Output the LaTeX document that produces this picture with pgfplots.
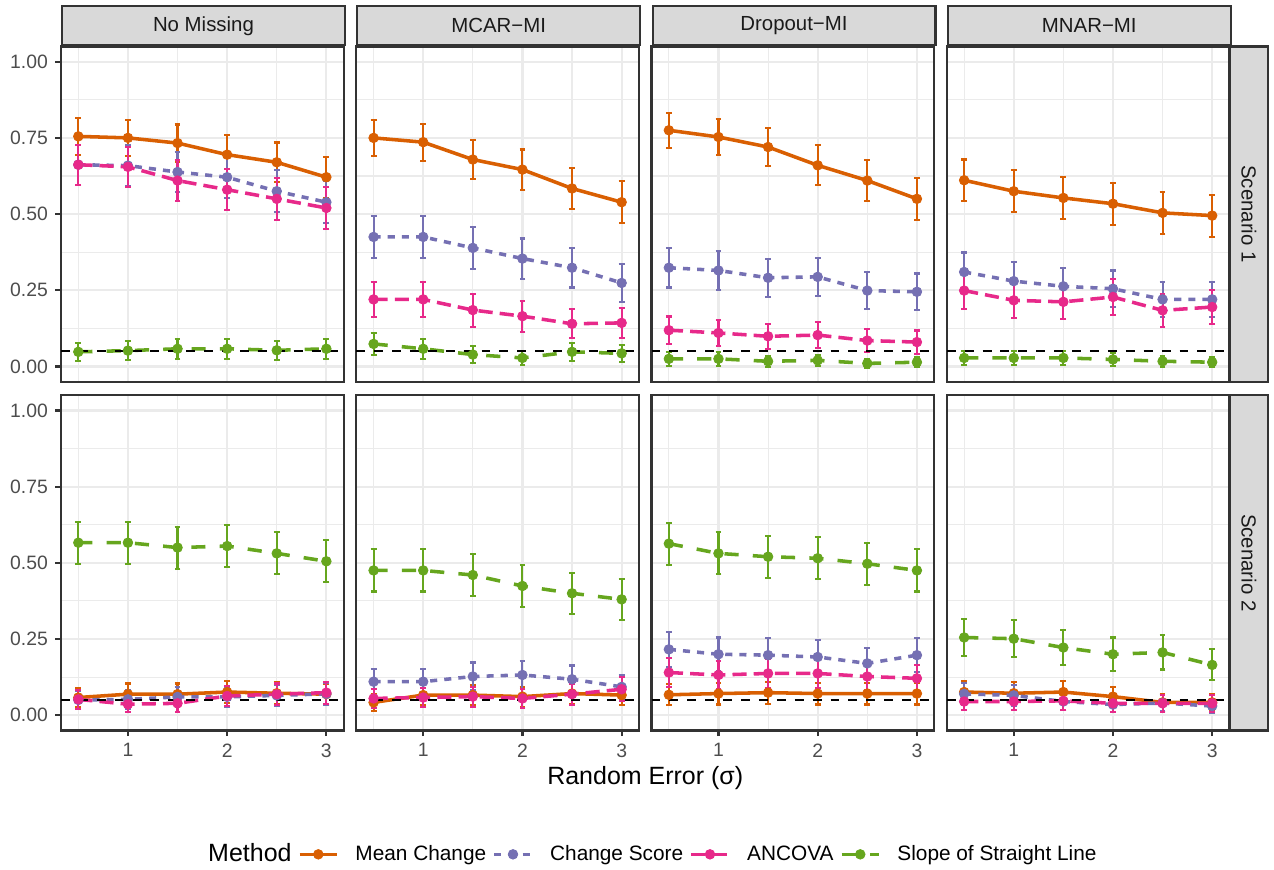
\documentclass[border=0pt]{standalone}
\usepackage{fontspec}
\setmainfont{Liberation Sans}
\usepackage{pgfplots}
\usepackage{pgfplotstable}
\pgfplotsset{compat=1.18}
\definecolor{cM}{HTML}{D95F02}
\definecolor{cC}{HTML}{7570B3}
\definecolor{cA}{HTML}{E7298A}
\definecolor{cS}{HTML}{66A61E}
\definecolor{gridc}{HTML}{EBEBEB}
\definecolor{framec}{HTML}{333333}
\definecolor{ticklab}{HTML}{4D4D4D}
\definecolor{stripfill}{HTML}{D9D9D9}
\definecolor{striptext}{HTML}{1A1A1A}

% Scenario 1
\pgfplotstableread{
x m me c ce a ae s se
0.5 0.755 0.060 0.662 0.066 0.662 0.066 0.048 0.030
1.0 0.750 0.060 0.659 0.066 0.655 0.066 0.052 0.031
1.5 0.733 0.061 0.638 0.067 0.610 0.068 0.058 0.032
2.0 0.695 0.064 0.621 0.067 0.580 0.068 0.058 0.032
2.5 0.670 0.065 0.575 0.069 0.550 0.069 0.053 0.031
3.0 0.621 0.067 0.539 0.069 0.520 0.069 0.058 0.032
}\tAa
\pgfplotstableread{
x m me c ce a ae s se
0.5 0.750 0.060 0.425 0.069 0.220 0.057 0.074 0.036
1.0 0.736 0.061 0.425 0.069 0.220 0.057 0.058 0.032
1.5 0.679 0.065 0.389 0.068 0.185 0.054 0.039 0.027
2.0 0.646 0.066 0.354 0.066 0.165 0.051 0.028 0.023
2.5 0.584 0.068 0.324 0.065 0.140 0.048 0.048 0.030
3.0 0.539 0.069 0.274 0.062 0.143 0.049 0.043 0.028
}\tAb
\pgfplotstableread{
x m me c ce a ae s se
0.5 0.775 0.058 0.324 0.065 0.119 0.045 0.025 0.022
1.0 0.753 0.060 0.315 0.064 0.110 0.043 0.025 0.022
1.5 0.720 0.062 0.291 0.063 0.099 0.041 0.017 0.018
2.0 0.660 0.066 0.294 0.063 0.103 0.042 0.020 0.019
2.5 0.610 0.068 0.249 0.060 0.085 0.039 0.010 0.014
3.0 0.550 0.069 0.245 0.060 0.080 0.038 0.014 0.016
}\tAc
\pgfplotstableread{
x m me c ce a ae s se
0.5 0.611 0.068 0.310 0.064 0.249 0.060 0.028 0.023
1.0 0.575 0.069 0.280 0.062 0.217 0.057 0.028 0.023
1.5 0.553 0.069 0.263 0.061 0.212 0.057 0.028 0.023
2.0 0.534 0.069 0.255 0.060 0.228 0.058 0.023 0.021
2.5 0.504 0.069 0.220 0.057 0.184 0.054 0.017 0.018
3.0 0.495 0.069 0.220 0.057 0.195 0.055 0.014 0.016
}\tAd
% Scenario 2
\pgfplotstableread{
x m me c ce a ae s se
0.5 0.058 0.032 0.050 0.030 0.052 0.031 0.566 0.069
1.0 0.069 0.035 0.052 0.031 0.036 0.026 0.566 0.069
1.5 0.069 0.035 0.060 0.033 0.039 0.027 0.550 0.069
2.0 0.076 0.037 0.060 0.033 0.063 0.034 0.555 0.069
2.5 0.072 0.036 0.065 0.034 0.069 0.035 0.531 0.069
3.0 0.069 0.035 0.070 0.035 0.074 0.036 0.505 0.069
}\tBa
\pgfplotstableread{
x m me c ce a ae s se
0.5 0.042 0.028 0.110 0.043 0.055 0.032 0.475 0.069
1.0 0.066 0.034 0.110 0.043 0.058 0.032 0.475 0.069
1.5 0.066 0.034 0.127 0.046 0.061 0.033 0.460 0.069
2.0 0.061 0.033 0.132 0.047 0.055 0.032 0.424 0.068
2.5 0.071 0.036 0.118 0.045 0.069 0.035 0.400 0.068
3.0 0.066 0.034 0.093 0.040 0.085 0.039 0.380 0.067
}\tBb
\pgfplotstableread{
x m me c ce a ae s se
0.5 0.067 0.035 0.216 0.057 0.140 0.048 0.563 0.069
1.0 0.071 0.036 0.200 0.055 0.132 0.047 0.531 0.069
1.5 0.074 0.036 0.197 0.055 0.137 0.048 0.520 0.069
2.0 0.071 0.036 0.191 0.055 0.137 0.048 0.515 0.069
2.5 0.071 0.036 0.170 0.052 0.127 0.046 0.497 0.069
3.0 0.071 0.036 0.197 0.055 0.121 0.045 0.475 0.069
}\tBc
\pgfplotstableread{
x m me c ce a ae s se
0.5 0.076 0.037 0.070 0.035 0.045 0.029 0.255 0.060
1.0 0.072 0.036 0.065 0.034 0.045 0.029 0.251 0.060
1.5 0.076 0.037 0.045 0.029 0.047 0.029 0.222 0.058
2.0 0.061 0.033 0.035 0.025 0.039 0.027 0.200 0.055
2.5 0.042 0.028 0.040 0.027 0.039 0.027 0.206 0.056
3.0 0.042 0.028 0.030 0.024 0.039 0.027 0.165 0.051
}\tBd

\pgfplotsset{
  panel/.style={
    scale only axis, width=135.84pt, height=161.04pt,
    anchor=north west,
    xmin=0.325, xmax=3.175, ymin=-0.05, ymax=1.05,
    xtick={1,2,3}, ytick={0,0.25,0.5,0.75,1},
    minor xtick={0.5,1.5,2.5}, minor ytick={0.125,0.375,0.625,0.875},
    grid=both,
    major grid style={draw=gridc, line width=1.07pt},
    minor grid style={draw=gridc, line width=0.53pt},
    axis line style={draw=framec, line width=1.07pt},
    tick pos=left, tick align=outside,
    major tick length=2.75pt, minor tick length=0pt,
    major tick style={draw=framec, line width=1.07pt},
    tick label style={font=\fontsize{9.3}{11}\selectfont, text=ticklab},
    /pgf/number format/assume math mode=true,
    yticklabel style={/pgf/number format/.cd, fixed, fixed zerofill, precision=2},
    xticklabel style={/pgf/number format/.cd, fixed, precision=0},
    legend image code/.code={\draw[mark repeat=2,mark phase=2] plot coordinates {(0pt,0pt) (9pt,0pt) (18pt,0pt)};},
  },
  noy/.style={ymajorticks=false},
  nox/.style={xmajorticks=false},
  ser/.style={line width=1.7pt, mark=*, mark size=2.3pt, mark options={solid, fill=#1, draw=#1, line width=0.4pt}, draw=#1,
    error bars/y dir=both, error bars/y explicit,
    error bars/error bar style={solid, line width=1pt, draw=#1},
    error bars/error mark options={solid, line width=1pt, mark size=1.4pt, draw=#1, rotate=90}},
  sM/.style={ser=cM, solid},
  sC/.style={ser=cC, dash pattern=on 3.4pt off 3.4pt},
  sA/.style={ser=cA, dash pattern=on 6.8pt off 3.4pt},
  sS/.style={ser=cS, dash pattern=on 6.8pt off 6.8pt},
  hl/.style={black, line width=1.07pt, dash pattern=on 4.3pt off 4.3pt, forget plot},
}
\newcommand\fourplots[1]{%
  \addplot[sM] table[x=x, y=m, y error=me] {#1};
  \addplot[sC] table[x=x, y=c, y error=ce] {#1};
  \addplot[sA] table[x=x, y=a, y error=ae] {#1};
  \addplot[sS] table[x=x, y=s, y error=se] {#1};
  \addplot[hl] coordinates {(0.325,0.05) (3.175,0.05)};
}
\newcommand\topstrip[2]{%
  \node[anchor=south west, minimum width=135.84pt, minimum height=18.8pt, inner sep=0pt,
        fill=stripfill, draw=framec, line width=1.07pt, text=striptext,
        font=\fontsize{9.8}{11}\selectfont] at (#1.north west) {#2};
}
\newcommand\rightstrip[2]{%
  \draw[fill=stripfill, draw=framec, line width=1.07pt] (#1.north east) rectangle ([xshift=18.5pt]#1.south east);
  \node[rotate=-90, text=striptext, font=\fontsize{9.8}{11}\selectfont] at ([xshift=9.25pt]#1.east) {#2};
}

\begin{document}
\begin{tikzpicture}
\path[use as bounding box] (0pt,0pt) rectangle (612pt,-417.6pt);

\begin{axis}[panel, nox, name=a11, at={(29.28pt,-22.32pt)}]
\fourplots{\tAa}
\end{axis}
\begin{axis}[panel, nox, noy, name=a12, at={(171.12pt,-22.32pt)}]
\fourplots{\tAb}
\end{axis}
\begin{axis}[panel, nox, noy, name=a13, at={(312.96pt,-22.32pt)}]
\fourplots{\tAc}
\end{axis}
\begin{axis}[panel, nox, noy, name=a14, at={(454.80pt,-22.32pt)}]
\fourplots{\tAd}
\end{axis}

\begin{axis}[panel, name=a21, at={(29.28pt,-189.84pt)},
  legend columns=-1,
  legend style={at={(2.062,-0.3696)}, anchor=center, draw=none, fill=none,
    font=\fontsize{10}{12}\selectfont, inner sep=0pt,
    nodes={inner sep=0pt},
    /tikz/every odd column/.append style={column sep=8pt},
    /tikz/every even column/.append style={column sep=3pt}},
]
\addlegendimage{empty legend}
\addlegendentry{\fontsize{12}{14}\selectfont Method}
\fourplots{\tBa}
\addlegendentry{Mean Change}
\addlegendentry{Change Score}
\addlegendentry{ANCOVA}
\addlegendentry{Slope of Straight Line}
\end{axis}
\begin{axis}[panel, noy, name=a22, at={(171.12pt,-189.84pt)}]
\fourplots{\tBb}
\end{axis}
\begin{axis}[panel, noy, name=a23, at={(312.96pt,-189.84pt)}]
\fourplots{\tBc}
\end{axis}
\begin{axis}[panel, noy, name=a24, at={(454.80pt,-189.84pt)}]
\fourplots{\tBd}
\end{axis}

\topstrip{a11}{No Missing}
\topstrip{a12}{MCAR−MI}
\topstrip{a13}{Dropout−MI}
\topstrip{a14}{MNAR−MI}
\rightstrip{a14}{Scenario 1}
\rightstrip{a24}{Scenario 2}

\node[font=\fontsize{12}{14}\selectfont] at (309.96pt,-373.9pt) {Random Error (σ)};
\end{tikzpicture}
\end{document}
